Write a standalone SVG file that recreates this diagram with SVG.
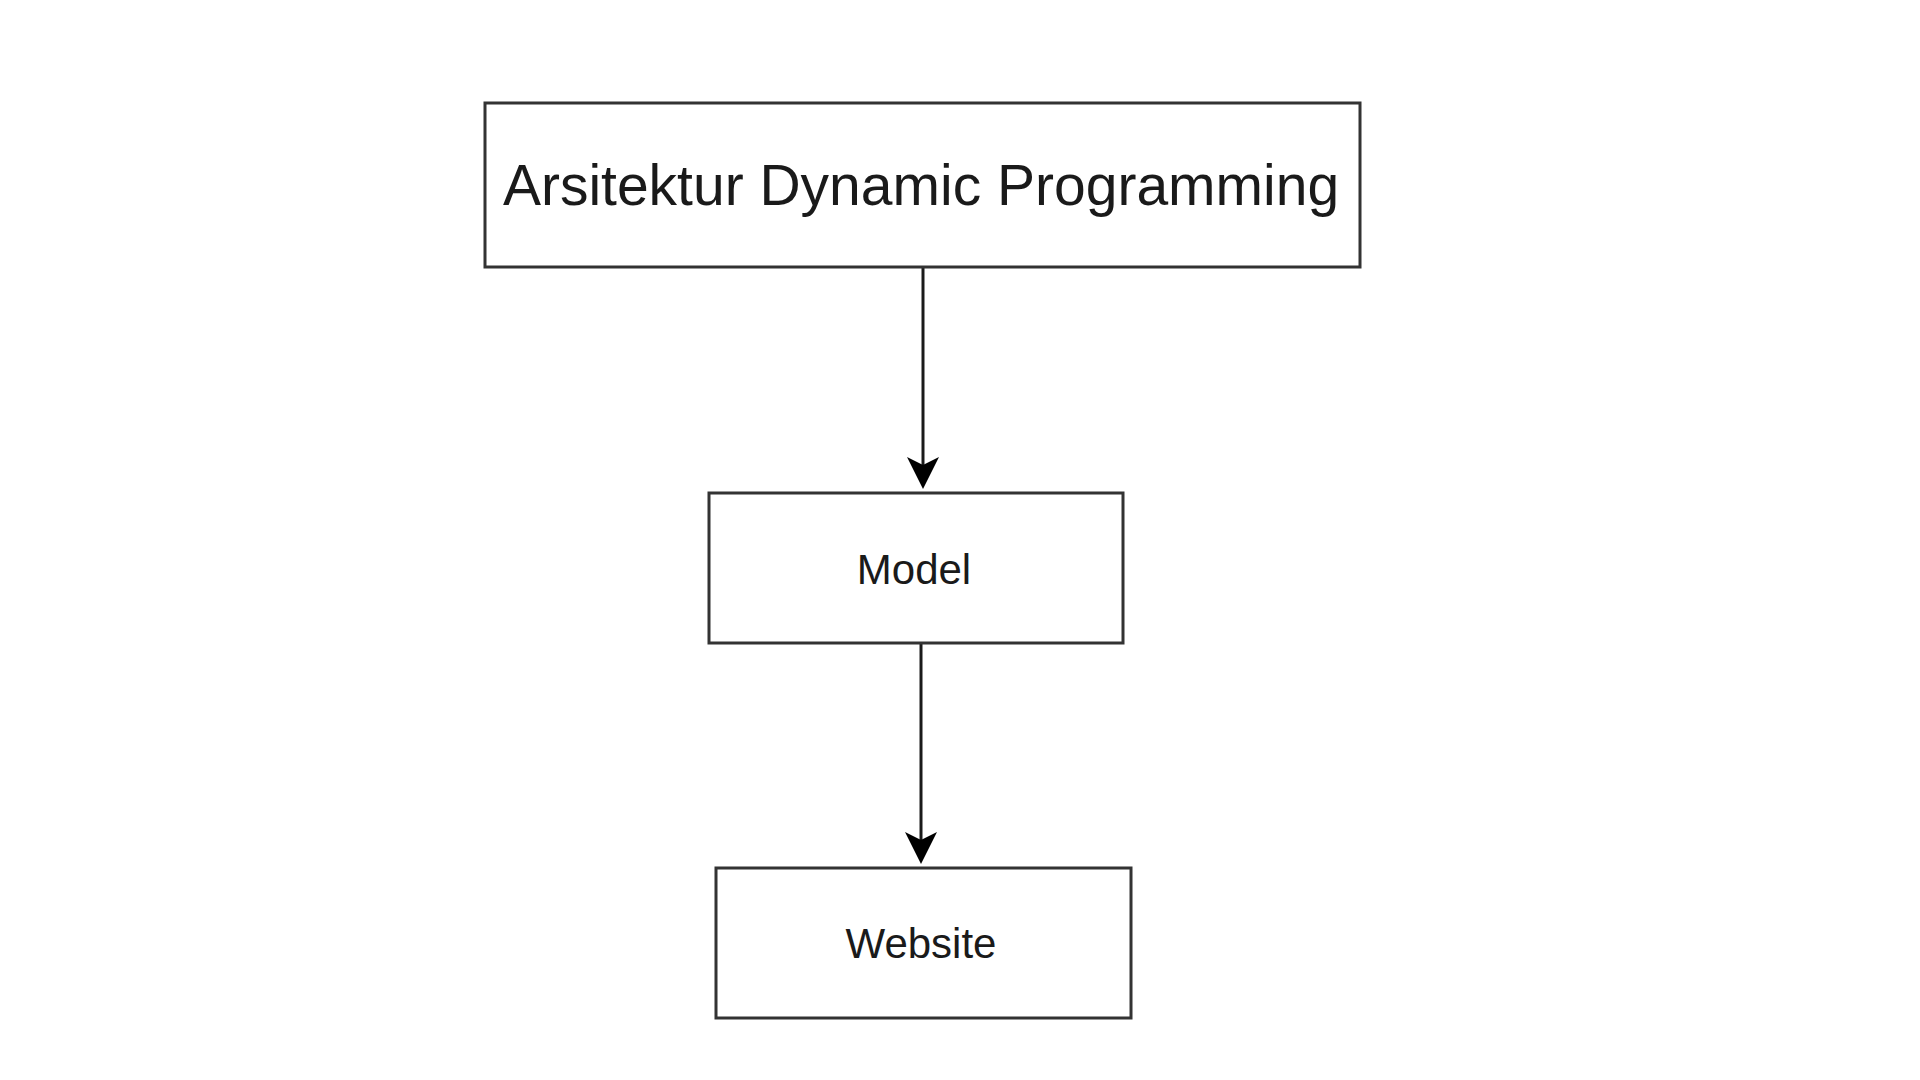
<svg xmlns="http://www.w3.org/2000/svg" width="1920" height="1080" viewBox="0 0 1920 1080">
<style>
.box{fill:#fff;stroke:#333;stroke-width:3}
.lbl{font-family:"Liberation Sans",Arial,sans-serif;fill:#1a1a1a;text-anchor:middle}
.edge{stroke:#1a1a1a;stroke-width:3;fill:none}
.head{fill:#000}
</style>
<rect width="1920" height="1080" fill="#fff"/>
<g id="connectors">
<path class="edge" d="M923,268 V480"/>
<path class="head" d="M923,489 L907,457 L923,465 L939,457 Z"/>
<path class="edge" d="M921,643 V855"/>
<path class="head" d="M921,864 L905,832 L921,840 L937,832 Z"/>
</g>
<g id="node-arsitektur">
<rect class="box" x="485" y="103" width="875" height="164"/>
<text class="lbl" x="921" y="205" font-size="57">Arsitektur Dynamic Programming</text>
</g>
<g id="node-model">
<rect class="box" x="709" y="493" width="414" height="150"/>
<text class="lbl" x="914" y="584" font-size="42">Model</text>
</g>
<g id="node-website">
<rect class="box" x="716" y="868" width="415" height="150"/>
<text class="lbl" x="921" y="958" font-size="42">Website</text>
</g>
</svg>
